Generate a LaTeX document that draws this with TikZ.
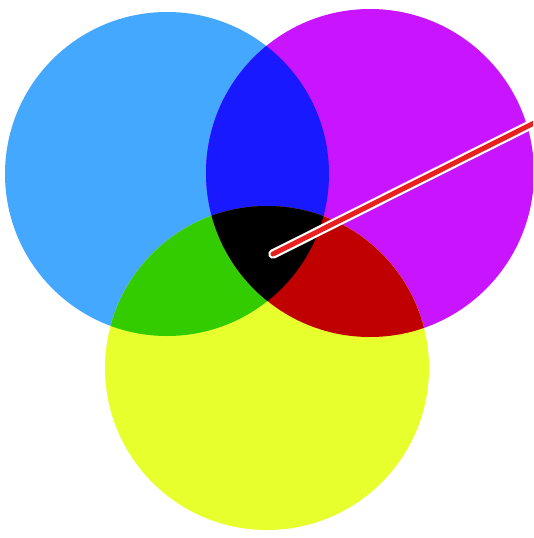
\documentclass[tikz,border=0pt]{standalone}
\usepackage{tikz}
\usepackage{xcolor}

\definecolor{cyanish}{HTML}{45A8FF}
\definecolor{magentaish}{HTML}{C814FF}
\definecolor{yellowish}{HTML}{E6FF2D}
\definecolor{blueish}{HTML}{1919FF}
\definecolor{greenish}{HTML}{33CC00}
\definecolor{redish}{HTML}{C00000}
\definecolor{pointer}{HTML}{E82020}

\begin{document}
\begin{tikzpicture}[x=1pt,y=-1pt]
\useasboundingbox (0,0) rectangle (533,538);
\clip (0,0) rectangle (533,538);
% circle centres
\coordinate (c) at (167,174);
\coordinate (m) at (370,173);
\coordinate (y) at (267,368);
\def\rc{162}\def\rm{164}\def\ry{162}
% base circles
\fill[cyanish] (c) circle[radius=\rc];
\fill[magentaish] (m) circle[radius=\rm];
\fill[yellowish] (y) circle[radius=\ry];
% pairwise overlaps
\begin{scope}
\clip (c) circle[radius=\rc];
\fill[blueish] (m) circle[radius=\rm];
\fill[greenish] (y) circle[radius=\ry];
\end{scope}
\begin{scope}
\clip (m) circle[radius=\rm];
\fill[redish] (y) circle[radius=\ry];
\end{scope}
% all three
\begin{scope}
\clip (c) circle[radius=\rc];
\clip (m) circle[radius=\rm];
\fill[black] (y) circle[radius=\ry];
\end{scope}
% pointer
\coordinate (tip) at (273,254);
\coordinate (far) at (560,110);
\draw[white,line width=9.5,line cap=round] (tip) -- (far);
\draw[pointer,line width=5,line cap=round] (tip) -- (far);
\end{tikzpicture}
\end{document}
